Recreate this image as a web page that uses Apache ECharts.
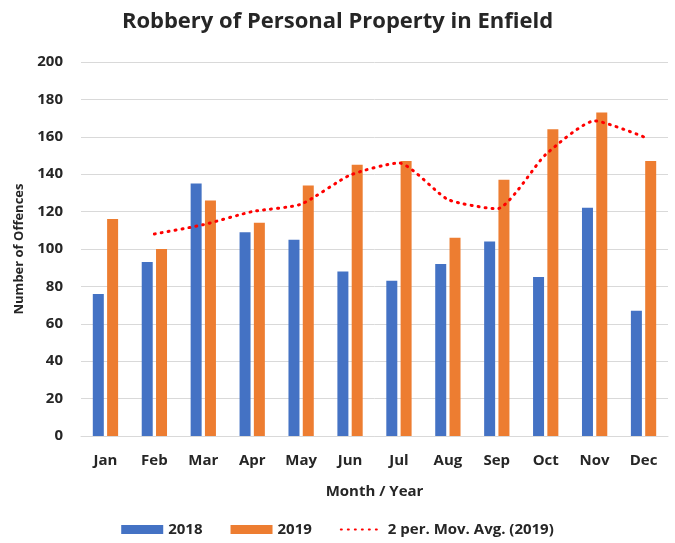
<!DOCTYPE html>
<html>
<head>
<meta charset="utf-8">
<script src="https://cdn.jsdelivr.net/npm/echarts@6/dist/echarts.min.js"></script>
<style>
  html, body { margin: 0; padding: 0; background: #fff; }
  #chart { width: 675px; height: 543px; }
</style>
</head>
<body>
<div id="chart"></div>
<script>
// data
const months = ['Jan', 'Feb', 'Mar', 'Apr', 'May', 'Jun', 'Jul', 'Aug', 'Sep', 'Oct', 'Nov', 'Dec'];
const values2018 = [76, 93, 135, 109, 105, 88, 83, 92, 104, 85, 122, 67];
const values2019 = [116, 100, 126, 114, 134, 145, 147, 106, 137, 164, 173, 147];
const movAvg2019 = ['-', 108, 113, 120, 124, 139.5, 146, 126.5, 121.5, 150.5, 168.5, 160];

const font = '"Open Sans", Lato, sans-serif';
const textColor = '#262626';

const chart = echarts.init(document.getElementById('chart'));

const option = {
  animation: false,
  title: {
    text: 'Robbery of Personal Property in Enfield',
    left: 'center',
    top: 6,
    textStyle: { fontFamily: font, fontSize: 22, fontWeight: 'bold', color: textColor }
  },
  legend: {
    bottom: 1,
    left: 'center',
    itemWidth: 42,
    itemHeight: 9,
    itemGap: 28,
    textStyle: { fontFamily: font, fontSize: 15, fontWeight: 'bold', color: textColor },
    data: [
      { name: '2018', icon: 'rect' },
      { name: '2019', icon: 'rect' },
      { name: '2 per. Mov. Avg. (2019)', itemStyle: { opacity: 0 } }
    ]
  },
  grid: {
    left: 81,
    right: 7,
    top: 62,
    bottom: 107
  },
  xAxis: {
    type: 'category',
    data: months,
    name: 'Month / Year',
    nameLocation: 'middle',
    nameGap: 48,
    nameTextStyle: { fontFamily: font, fontSize: 15, fontWeight: 'bold', color: textColor },
    axisTick: { show: false },
    axisLine: { lineStyle: { color: '#d9d9d9', width: 1 } },
    axisLabel: { fontFamily: font, fontSize: 15, fontWeight: 'bold', color: textColor, margin: 17 }
  },
  yAxis: {
    type: 'value',
    min: 0,
    max: 200,
    interval: 20,
    name: 'Number of Offences',
    nameLocation: 'middle',
    nameGap: 55,
    nameTextStyle: { fontFamily: font, fontSize: 13, fontWeight: 'bold', color: textColor },
    axisLine: { show: false },
    axisTick: { show: false },
    splitLine: { lineStyle: { color: '#d9d9d9', width: 1 } },
    axisLabel: { fontFamily: font, fontSize: 15, fontWeight: 'bold', color: textColor, margin: 18 }
  },
  series: [
    {
      name: '2018',
      type: 'bar',
      data: values2018,
      barWidth: 11,
      barGap: '30%',
      itemStyle: { color: '#4472C4' }
    },
    {
      name: '2019',
      type: 'bar',
      data: values2019,
      barWidth: 11,
      itemStyle: { color: '#ED7D31' }
    },
    {
      name: '2 per. Mov. Avg. (2019)',
      type: 'line',
      data: movAvg2019,
      symbol: 'none',
      smooth: 0.2,
      lineStyle: { color: '#FF0000', width: 3, type: [1, 6], cap: 'round' },
      itemStyle: { color: '#FF0000' },
      z: 5
    }
  ]
};

chart.setOption(option);
</script>
</body>
</html>
